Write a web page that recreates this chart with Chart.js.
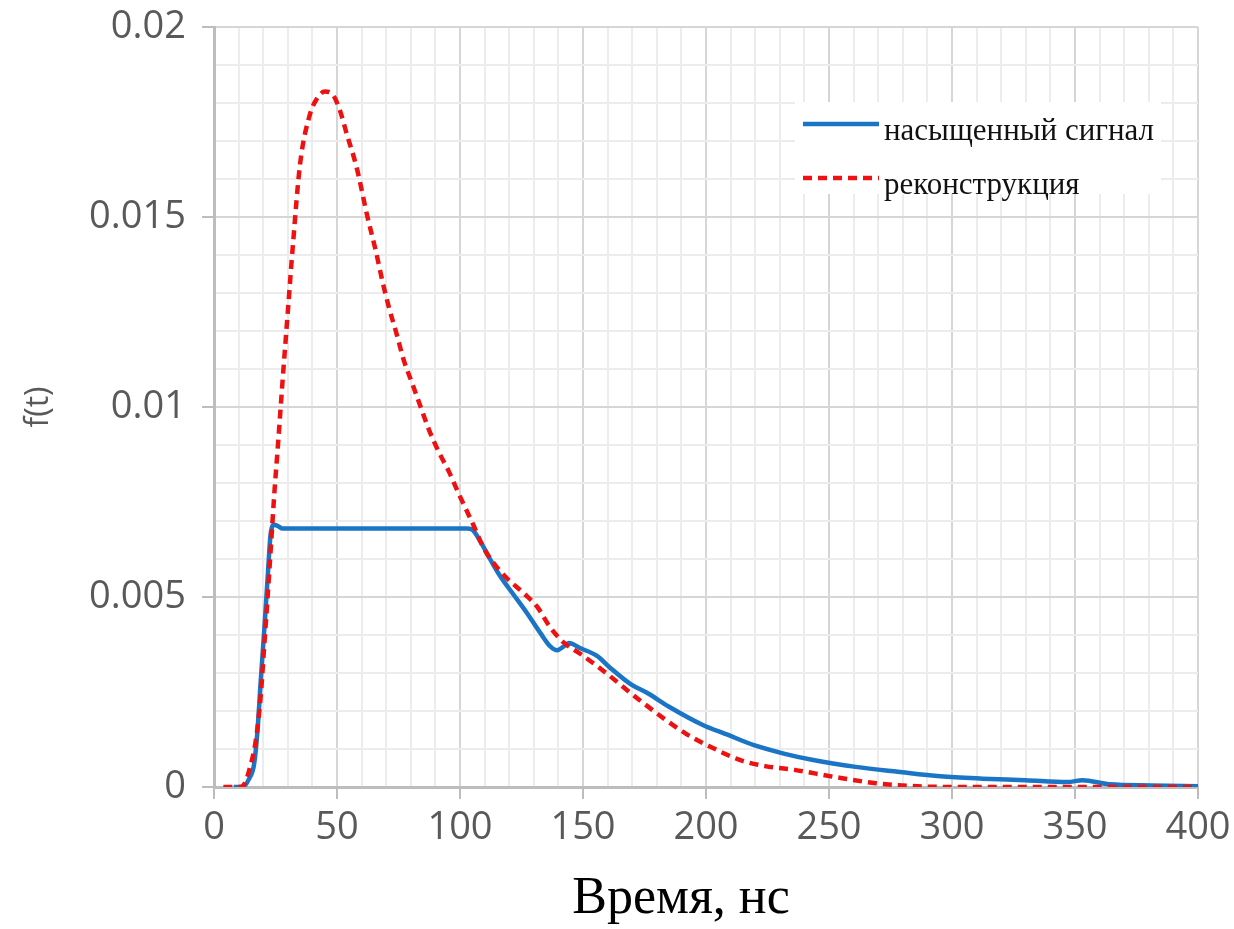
<!DOCTYPE html>
<html>
<head>
<meta charset="utf-8">
<script src="https://cdn.jsdelivr.net/npm/chart.js@4/dist/chart.umd.min.js"></script>
<style>
  html, body { margin: 0; padding: 0; background: #fff; }
  canvas { display: block; }
</style>
</head>
<body>
<canvas id="signal" width="1234" height="929"></canvas>
<script>
// ── Data ─────────────────────────────────────────────────────
// saturated signal (ns, f(t))
const satTime = [8, 11.6, 14.3, 16.3, 17.7, 19, 20.4, 21.8, 23.1, 24.5, 25.9, 27.9, 40, 60, 80, 100,
    102.7, 104.8, 108.2, 112.2, 116.3, 121.8, 127.2, 132.7, 136.7, 139.5, 142.2, 144.2, 149, 155.7,
    161, 169.5, 176, 184.8, 198.5, 209, 219.5, 231.6, 243.6, 260.9, 278, 295.3, 312.5, 329.8, 347,
    353, 364, 381, 400];
const satValue = [0, 0, 0.00022, 0.0006, 0.0015, 0.0028, 0.0041, 0.0055, 0.0067, 0.0069, 0.00687, 0.0068,
    0.0068, 0.0068, 0.0068, 0.0068, 0.0068, 0.00678, 0.00647, 0.006, 0.00555, 0.00506, 0.00458, 0.00405,
    0.0037, 0.0036, 0.0037, 0.00379, 0.00365, 0.00345, 0.00314, 0.0027, 0.00248, 0.00212, 0.00164,
    0.00137, 0.0011, 0.00088, 0.00071, 0.00053, 0.0004, 0.00028, 0.00022, 0.00018, 0.00013, 0.00018,
    0.00007, 0.00004, 0.00002];

// reconstruction
const recTime = [3.8, 7.5, 10.6, 12.5, 14.3, 17, 19, 20.4, 21.8, 23.1, 24.5, 26, 28, 30, 32, 35, 39,
    41.7, 45.1, 48.5, 51.2, 53.9, 58, 62.4, 65.8, 68.5, 71.2, 73.9, 77.3, 80.7, 84, 87.4, 91.5, 95.5,
    99.6, 105.4, 109.5, 113.6, 119, 125.9, 131.3, 136.7, 142.2, 149, 157.4, 174.7, 191.9, 200.5, 214.3,
    224, 236, 251.7, 269, 286, 300, 350, 400];
const recValue = [0, 0, 0, 0.0001, 0.00044, 0.00123, 0.0024, 0.0037, 0.005, 0.0063, 0.0077, 0.009,
    0.0108, 0.0125, 0.0142, 0.0164, 0.0177, 0.0181, 0.0183, 0.0182, 0.0178, 0.0172, 0.0163, 0.015,
    0.0141, 0.0133, 0.0126, 0.012, 0.0112, 0.0106, 0.01, 0.0094, 0.0088, 0.0083, 0.0077, 0.0069,
    0.0063, 0.0059, 0.0055, 0.0051, 0.00475, 0.0042, 0.0038, 0.0035, 0.0031, 0.0022, 0.0014, 0.0011,
    0.0007, 0.00055, 0.00045, 0.00027, 0.0001, 0.00002, 0, 0, 0];

const seriesNames = ['насыщенный сигнал', 'реконструкция'];
const xTitle = 'Время, нс';
const yTitle = 'f(t)';

// ── Styles ───────────────────────────────────────────────────
const BLUE = '#1b75c7';
const RED = '#ee1111';
const TICK_FONT = { family: "'Open Sans', sans-serif", size: 38 };
const TICK_COLOR = '#595959';
const GRID_MAJOR = '#d6d6d6';
const GRID_MINOR = '#ececec';
const AXIS_LINE = '#bdbdbd';

const toPoints = (xs, ys) => xs.map((x, i) => ({ x, y: ys[i] }));
const isMajorX = v => Math.round(v) % 50 === 0;
const isMajorY = v => Math.round(v * 1000) % 5 === 0;

// legend box in the upper right + x axis title
const decorations = {
    id: 'decorations',
    afterDatasetsDraw(chart) {
        const { ctx } = chart;
        ctx.save();
        ctx.fillStyle = '#fff';
        ctx.fillRect(795, 102, 366, 92);

        chart.data.datasets.forEach((ds, i) => {
            const y = 124 + i * 54;
            ctx.beginPath();
            ctx.strokeStyle = ds.borderColor;
            ctx.lineWidth = ds.borderWidth;
            ctx.setLineDash(ds.borderDash || []);
            ctx.moveTo(803, y);
            ctx.lineTo(879, y);
            ctx.stroke();
            ctx.setLineDash([]);
            ctx.fillStyle = '#111';
            ctx.font = "31px 'Liberation Serif', serif";
            ctx.textBaseline = 'alphabetic';
            ctx.textAlign = 'left';
            ctx.fillText(ds.label, 884, y + 16);
        });

        ctx.fillStyle = '#000';
        ctx.font = "52px 'Liberation Serif', serif";
        ctx.textAlign = 'center';
        ctx.fillText(xTitle, 681, 913);
        ctx.restore();
    },
};

new Chart(document.getElementById('signal'), {
    type: 'line',
    data: {
        datasets: [{
            label: seriesNames[0],
            data: toPoints(satTime, satValue),
            borderColor: BLUE,
            borderWidth: 4.5,
            pointRadius: 0,
            cubicInterpolationMode: 'monotone',
            order: 1,
        }, {
            label: seriesNames[1],
            data: toPoints(recTime, recValue),
            borderColor: RED,
            borderWidth: 4.5,
            borderDash: [9, 6],
            pointRadius: 0,
            cubicInterpolationMode: 'monotone',
            order: 0,
        }],
    },
    options: {
        responsive: false,
        animation: false,
        layout: { padding: { top: 27, right: 36, left: 0, bottom: 0 } },
        plugins: {
            legend: { display: false },
            tooltip: { enabled: false },
        },
        scales: {
            x: {
                type: 'linear',
                min: 0,
                max: 400,
                afterFit: s => {
                    s.height = 142;
                    s.paddingLeft = 0;
                    s.paddingRight = 0;
                },
                ticks: {
                    stepSize: 10,
                    autoSkip: false,
                    maxRotation: 0,
                    padding: 6,
                    color: TICK_COLOR,
                    font: TICK_FONT,
                    callback: v => isMajorX(v) ? String(Math.round(v)) : '',
                },
                grid: {
                    color: c => isMajorX(c.tick.value) ? GRID_MAJOR : GRID_MINOR,
                    lineWidth: 2,
                    tickLength: 12,
                    tickWidth: 2,
                    tickColor: c => isMajorX(c.tick.value) ? AXIS_LINE : 'rgba(0,0,0,0)',
                },
                border: { color: AXIS_LINE, width: 3 },
            },
            y: {
                min: 0,
                max: 0.02,
                afterFit: s => {
                    s.width = 214;
                    s.paddingTop = 0;
                    s.paddingBottom = 0;
                },
                ticks: {
                    stepSize: 0.001,
                    autoSkip: false,
                    padding: 16,
                    color: TICK_COLOR,
                    font: TICK_FONT,
                    callback: v => isMajorY(v) ? String(parseFloat(v.toFixed(3))) : '',
                },
                grid: {
                    color: c => isMajorY(c.tick.value) ? GRID_MAJOR : GRID_MINOR,
                    lineWidth: 2,
                    tickLength: 12,
                    tickWidth: 2,
                    tickColor: c => isMajorY(c.tick.value) ? AXIS_LINE : 'rgba(0,0,0,0)',
                },
                border: { color: AXIS_LINE, width: 3 },
                title: {
                    display: true,
                    text: yTitle,
                    color: TICK_COLOR,
                    font: { family: TICK_FONT.family, size: 32 },
                    padding: { top: 20, bottom: 0 },
                },
            },
        },
    },
    plugins: [decorations],
});
</script>
</body>
</html>
